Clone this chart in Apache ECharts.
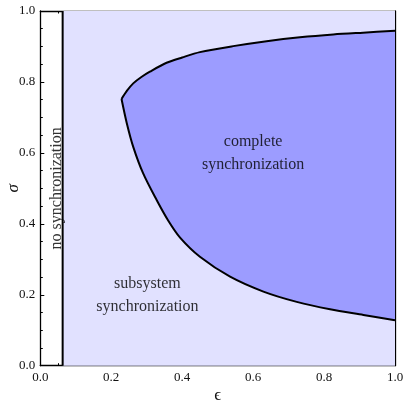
<!DOCTYPE html>
<html><head><meta charset="utf-8">
<script src="https://cdn.jsdelivr.net/npm/echarts@6/dist/echarts.min.js"></script>
<style>html,body{margin:0;padding:0;background:#fff}#c{width:403px;height:400px}</style>
</head><body><div id="c"></div>
<script>
// ---- data ----
const axisMin = 0;
const axisMax = 1;
const tickStep = 0.2;
const noSyncEps = 0.063;              // left edge of synchronizable region
const upperEps   = [0.229, 0.245, 0.262, 0.285, 0.309, 0.356, 0.400, 0.450, 0.544, 0.638, 0.732, 0.826, 0.910, 1.000];
const upperSigma = [0.752, 0.776, 0.796, 0.814, 0.829, 0.854, 0.869, 0.884, 0.901, 0.915, 0.926, 0.934, 0.939, 0.944];
const lowerEps   = [0.229, 0.244, 0.262, 0.290, 0.328, 0.360, 0.394, 0.450, 0.535, 0.629, 0.723, 0.817, 0.911, 1.000];
const lowerSigma = [0.752, 0.683, 0.617, 0.542, 0.467, 0.410, 0.361, 0.307, 0.251, 0.209, 0.180, 0.159, 0.143, 0.128];
const regionNames = ['no synchronization', 'complete\nsynchronization', 'subsystem\nsynchronization'];
const regionEps   = [0.047, 0.600, 0.302];
const regionSigma = [0.500, 0.600, 0.199];
const regionRotate = [90, 0, 0];

// ---- chart ----
const serif = 'Liberation Serif, Times New Roman, serif';
const chart = echarts.init(document.getElementById('c'), null, {renderer: 'canvas'});
function axisBase(extra) {
  return Object.assign({
    type: 'value', min: axisMin, max: axisMax, interval: tickStep,
    nameMoveOverlap: false,
    axisLine: {show: true, onZero: false, lineStyle: {color: '#000', width: 1.3}},
    axisTick: {show: true, inside: true, length: 4, lineStyle: {color: '#000', width: 1}},
    minorTick: {show: true, splitNumber: 4, length: 2.5, lineStyle: {color: '#000', width: 1}},
    splitLine: {show: false}, minorSplitLine: {show: false},
    axisLabel: {show: true, fontFamily: serif, fontSize: 13, color: '#111', margin: 5,
      formatter: v => v.toFixed(1)}
  }, extra);
}
const polyPoints = () => {
  const pts = [];
  for (let i = 0; i < upperEps.length; i++) pts.push([upperEps[i], upperSigma[i]]);
  for (let i = lowerEps.length - 1; i >= 1; i--) pts.push([lowerEps[i], lowerSigma[i]]);
  return pts;
};
chart.setOption({
  animation: false,
  grid: {left: 40.3, right: 8, top: 11, bottom: 34.3, containLabel: false, outerBoundsMode: 'none'},
  xAxis: [
    axisBase({position: 'bottom', name: 'ϵ', nameLocation: 'middle', nameGap: 21,
      nameTextStyle: {fontFamily: serif, fontSize: 17, color: '#111'},
      axisLabel: {show: true, fontFamily: serif, fontSize: 13, color: '#111', margin: 5,
        formatter: v => v.toFixed(1), showMaxLabel: true, showMinLabel: true}}),
    axisBase({position: 'top', axisLabel: {show: false}})
  ],
  yAxis: [
    axisBase({position: 'left', name: 'σ', nameLocation: 'middle', nameGap: 18, nameRotate: 90,
      nameTextStyle: {fontFamily: serif, fontSize: 17, fontStyle: 'italic', color: '#111'}}),
    axisBase({position: 'right', axisLabel: {show: false}})
  ],
  series: [
    {
      type: 'line', silent: true, z: 1,
      data: [[noSyncEps, axisMin], [noSyncEps, axisMax]],
      showSymbol: false, lineStyle: {color: '#000', width: 2},
      markArea: {silent: true, itemStyle: {color: '#e1e1ff'},
        data: [[{xAxis: noSyncEps, yAxis: axisMin}, {xAxis: axisMax, yAxis: axisMax}]]}
    },
    {
      type: 'custom', silent: true, z: 2,
      data: [[upperEps[0], upperSigma[0]]],
      renderItem: (params, api) => ({
        type: 'polygon',
        shape: {points: polyPoints().map(p => api.coord(p))},
        style: {fill: '#9c9cff', stroke: null}
      })
    },
    {
      type: 'line', silent: true, z: 3, showSymbol: false, smooth: 0.3,
      data: upperEps.map((e, i) => [e, upperSigma[i]]),
      lineStyle: {color: '#000', width: 2}
    },
    {
      type: 'line', silent: true, z: 3, showSymbol: false, smooth: 0.3,
      data: lowerEps.map((e, i) => [e, lowerSigma[i]]),
      lineStyle: {color: '#000', width: 2}
    },
    {
      type: 'scatter', silent: true, z: 4, symbolSize: 0,
      data: regionNames.map((n, i) => ({value: [regionEps[i], regionSigma[i], n],
        label: {rotate: regionRotate[i]}})),
      label: {show: true, position: 'inside', formatter: p => p.value[2],
        fontFamily: serif, fontSize: 16, lineHeight: 23, color: '#000', align: 'center', verticalAlign: 'middle'}
    }
  ]
});
</script></body></html>
